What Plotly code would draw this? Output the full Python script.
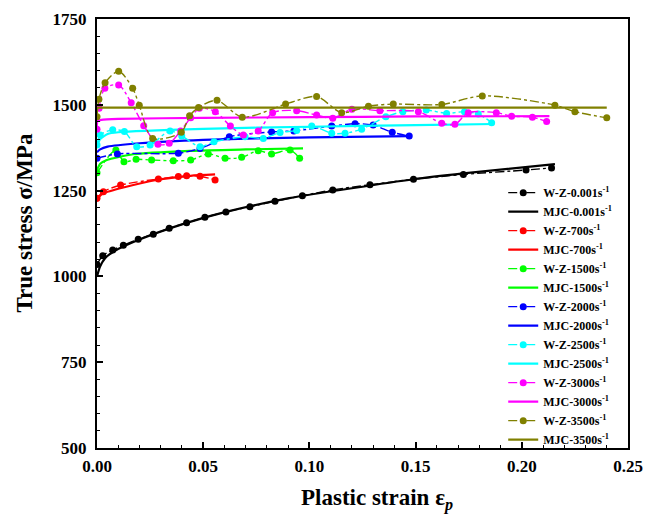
import plotly.graph_objects as go

# ---------------- data ----------------
wz_0001_x = [0.0, 0.0027, 0.0074, 0.0124, 0.0194, 0.0265, 0.034, 0.0422, 0.0508, 0.0607,
             0.072, 0.0838, 0.0967, 0.111, 0.1285, 0.149, 0.1725, 0.202, 0.214]
wz_0001_y = [1035, 1060, 1077, 1091, 1108, 1123, 1140, 1156, 1172, 1188,
             1203, 1219, 1235, 1252, 1267, 1283, 1297, 1310, 1316]
mjc_0001_x = [0.0, 0.0014, 0.0038, 0.0077, 0.0194, 0.0422, 0.0607, 0.0905, 0.149, 0.1725, 0.2156]
mjc_0001_y = [1000, 1028, 1053, 1072, 1106, 1156, 1188, 1228, 1283, 1300, 1327]

wz_700_x = [0.0, 0.003, 0.0111, 0.0289, 0.0383, 0.0422, 0.0485, 0.0556]
wz_700_y = [1228, 1247, 1266, 1284, 1291, 1293, 1292, 1281]
mjc_700_x = [0.0, 0.001, 0.003, 0.0124, 0.028, 0.044, 0.0556]
mjc_700_y = [1218, 1232, 1242, 1259, 1281, 1293, 1297]

wz_1500_x = [0.0, 0.0089, 0.0127, 0.0184, 0.0257, 0.0359, 0.0441, 0.0524, 0.0603, 0.0681,
             0.0759, 0.0822, 0.0909, 0.0954]
wz_1500_y = [1302, 1368, 1334, 1341, 1339, 1337, 1339, 1357, 1344, 1347,
             1366, 1357, 1368, 1344]
mjc_1500_x = [0.0, 0.0015, 0.0046, 0.017, 0.044, 0.07, 0.097]
mjc_1500_y = [1310, 1328, 1339, 1356, 1366, 1370, 1373]

wz_2000_x = [0.0, 0.0096, 0.0383, 0.0485, 0.0623, 0.0822, 0.0927, 0.1105, 0.1215,
             0.13, 0.139, 0.147]
wz_2000_y = [1344, 1357, 1359, 1373, 1407, 1421, 1424, 1438, 1445,
             1441, 1420, 1409]
mjc_2000_x = [0.0, 0.0015, 0.005, 0.02, 0.05, 0.1, 0.147]
mjc_2000_y = [1362, 1370, 1378, 1388, 1398, 1405, 1409]

wz_2500_x = [0.0, 0.0015, 0.0074, 0.0129, 0.0187, 0.025, 0.0344, 0.0399, 0.0485, 0.0551,
             0.0697, 0.0783, 0.0862, 0.094, 0.1011, 0.1105, 0.1168, 0.1246, 0.136,
             0.144, 0.155, 0.1646, 0.173, 0.1795, 0.1858]
wz_2500_y = [1383, 1412, 1427, 1422, 1378, 1383, 1424, 1409, 1378, 1392,
             1407, 1402, 1419, 1425, 1438, 1417, 1417, 1429, 1465,
             1480, 1485, 1475, 1480, 1473, 1448]
mjc_2500_x = [0.0, 0.0015, 0.005, 0.01, 0.05, 0.1, 0.15, 0.187]
mjc_2500_y = [1378, 1400, 1415, 1420, 1430, 1436, 1441, 1444]

wz_3000_x = [0.0, 0.001, 0.0037, 0.0102, 0.0161, 0.022, 0.0287, 0.034, 0.0394, 0.0441,
             0.0482, 0.0557, 0.0628, 0.0689, 0.0759, 0.0827, 0.094, 0.1034, 0.111, 0.12,
             0.1332, 0.1513, 0.1623, 0.1685, 0.1748, 0.188, 0.1952, 0.205, 0.2117]
wz_3000_y = [1429, 1490, 1548, 1558, 1506, 1439, 1385, 1388, 1424, 1462,
             1490, 1480, 1438, 1412, 1424, 1477, 1483, 1470, 1461, 1487,
             1483, 1480, 1446, 1443, 1477, 1477, 1467, 1464, 1451]
mjc_3000_x = [0.0, 0.002, 0.01, 0.05, 0.1, 0.15, 0.213]
mjc_3000_y = [1452, 1456, 1459, 1462, 1464, 1466, 1467]

wz_3500_x = [0.0, 0.0009, 0.0038, 0.0102, 0.0168, 0.0199, 0.0262, 0.0397, 0.0436,
             0.0478, 0.0565, 0.0684, 0.0888, 0.1034, 0.1152, 0.1278, 0.1395, 0.1623,
             0.1814, 0.2156, 0.225, 0.24]
wz_3500_y = [1465, 1516, 1564, 1598, 1548, 1499, 1402, 1420, 1468,
             1492, 1513, 1464, 1502, 1524, 1477, 1496, 1502, 1501,
             1526, 1499, 1480, 1462]
mjc_3500_x = [0.0, 0.24]
mjc_3500_y = [1492, 1492]

rates = ["0.001", "700", "1500", "2000", "2500", "3000", "3500"]
colors = ["#000000", "#FF0000", "#00FF00", "#0000FF", "#00FFFF", "#FF00FF", "#808000"]
wz_series = [(wz_0001_x, wz_0001_y), (wz_700_x, wz_700_y), (wz_1500_x, wz_1500_y),
             (wz_2000_x, wz_2000_y), (wz_2500_x, wz_2500_y), (wz_3000_x, wz_3000_y),
             (wz_3500_x, wz_3500_y)]
mjc_series = [(mjc_0001_x, mjc_0001_y), (mjc_700_x, mjc_700_y), (mjc_1500_x, mjc_1500_y),
              (mjc_2000_x, mjc_2000_y), (mjc_2500_x, mjc_2500_y), (mjc_3000_x, mjc_3000_y),
              (mjc_3500_x, mjc_3500_y)]

x_ticks = [0.0, 0.05, 0.10, 0.15, 0.20, 0.25]
x_ticklabels = ["0.00", "0.05", "0.10", "0.15", "0.20", "0.25"]
y_ticks = [500, 750, 1000, 1250, 1500, 1750]
x_title = "Plastic strain ε<sub><i>p</i></sub>"
y_title = "True stress σ/MPa"

# ---------------- figure ----------------
FONT = "Liberation Serif, Times New Roman, serif"
fig = go.Figure()

for rate, col, (wx, wy), (mx, my) in zip(rates, colors, wz_series, mjc_series):
    fig.add_trace(go.Scatter(
        x=wx, y=wy, mode="lines+markers", name=f"W-Z-{rate}s<sup>-1</sup>",
        line=dict(color=col, width=1.4, dash="dashdot", shape="spline", smoothing=0.8),
        marker=dict(color=col, size=7, symbol="circle"),
    ))
    fig.add_trace(go.Scatter(
        x=mx, y=my, mode="lines", name=f"MJC-{rate}s<sup>-1</sup>",
        line=dict(color=col, width=2.2, shape="spline", smoothing=0.6),
    ))

axis_common = dict(
    showline=True, linewidth=2, linecolor="black", mirror=True,
    ticks="inside", tickwidth=1.5, ticklen=6, tickcolor="black",
    showgrid=False, zeroline=False,
    tickfont=dict(family=FONT, size=17, color="black", weight="bold"),
)

fig.update_xaxes(
    range=[0, 0.25], tickvals=x_ticks, ticktext=x_ticklabels,
    minor=dict(dtick=0.01, tick0=0, ticks="inside", ticklen=3, tickcolor="black", tickwidth=1.2),
    ticklabelstandoff=2,
    **axis_common,
)
fig.update_yaxes(
    range=[500, 1750], tickvals=y_ticks,
    minor=dict(dtick=50, tick0=500, ticks="inside", ticklen=3, tickcolor="black", tickwidth=1.2),
    ticklabelstandoff=5,
    **axis_common,
)

title_font = dict(family=FONT, size=23, color="black", weight="bold")
fig.add_annotation(text=x_title, xref="paper", yref="paper", x=0.527, y=-0.119,
                   xanchor="center", yanchor="middle", showarrow=False, font=title_font)
fig.add_annotation(text=y_title, xref="paper", yref="paper", x=-0.137, y=0.526,
                   xanchor="center", yanchor="middle", showarrow=False, textangle=-90,
                   font=title_font)

fig.update_layout(
    width=646, height=515,
    margin=dict(l=97, r=18, t=19, b=67, autoexpand=False),
    paper_bgcolor="white", plot_bgcolor="white",
    showlegend=True,
    legend=dict(
        x=0.765, y=0.629, xanchor="left", yanchor="top",
        bgcolor="rgba(0,0,0,0)", borderwidth=0,
        font=dict(family=FONT, size=12, color="black", weight="bold"),
        itemwidth=30, tracegroupgap=0,
    ),
    font=dict(family=FONT, color="black"),
)

# remove the browser's default 8px body margin so the figure fills the window exactly
fig.write_html(
    "out.html",
    config={"displayModeBar": False},
    post_script="document.body.style.margin='0';document.body.style.overflow='hidden';",
)
